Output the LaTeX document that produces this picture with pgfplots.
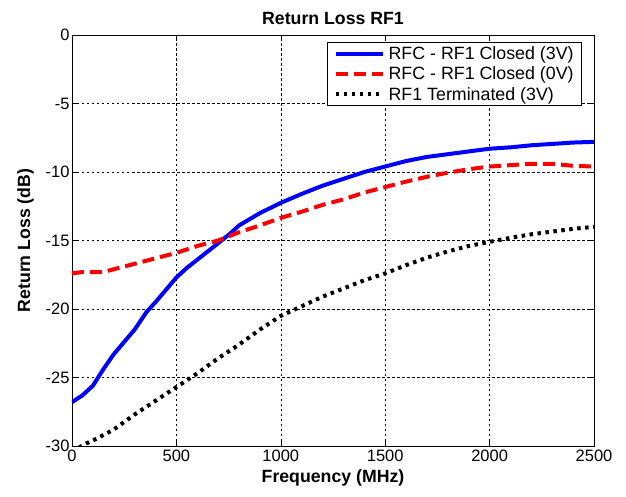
\documentclass[border=0pt]{standalone}
\usepackage{fontspec}
\setmainfont{Liberation Sans}
\usepackage{pgfplots}
\pgfplotsset{compat=1.18}

\begin{document}
\begin{tikzpicture}
\begin{axis}[
    scale only axis,
    width=522pt,
    height=411pt,
    xmin=0, xmax=2500,
    ymin=-30, ymax=0,
    xtick={0,500,...,2500},
    ytick={-30,-25,...,0},
    /pgf/number format/assume math mode=true,
    /pgf/number format/1000 sep={},
    tick align=inside,
    major tick length=5pt,
    tick style={black, line width=0.6pt},
    axis line style={black, line width=0.8pt},
    grid=major,
    major grid style={black, line width=0.6pt, dash pattern=on 2.5pt off 2.5pt},
    tick label style={font=\fontsize{16.5}{19}\selectfont},
    yticklabel style={xshift=1pt},
    xlabel={\fontsize{17.7}{21}\selectfont\bfseries Frequency (MHz)},
    ylabel={\fontsize{17.7}{21}\selectfont\bfseries Return Loss (dB)},
    title={\fontsize{17.7}{21}\selectfont\bfseries Return Loss RF1},
    title style={yshift=1pt},
    xlabel style={yshift=-2pt},
    ylabel style={yshift=5pt},
    legend style={at={(rel axis cs:0.977,0.983)}, anchor=north east,
        draw=black, line width=0.8pt, font=\fontsize{17.8}{20}\selectfont,
        row sep=2pt, inner xsep=6pt, inner ysep=2pt,
        /tikz/every odd column/.append style={column sep=2pt}},
    legend cell align=left,
    legend image code/.code={\draw[#1] (0pt,0pt) -- (47pt,0pt);},
    clip=true,
]

% RFC - RF1 Closed (3V)
\addplot[blue, line width=4pt] coordinates {
    (0,-26.8) (20,-26.6) (50,-26.3) (100,-25.6) (150,-24.4)
    (200,-23.3) (250,-22.4) (300,-21.5) (358,-20.2) (400,-19.5)
    (450,-18.6) (500,-17.7) (550,-17.0) (600,-16.4) (650,-15.8) (700,-15.2)
    (757,-14.5) (800,-13.9) (900,-13.0) (1000,-12.25) (1100,-11.6)
    (1200,-11.0) (1300,-10.5) (1400,-10.0) (1500,-9.6) (1600,-9.2)
    (1700,-8.9) (1800,-8.7) (1900,-8.5) (2000,-8.3) (2100,-8.2)
    (2200,-8.05) (2300,-7.95) (2400,-7.85) (2500,-7.8)
};
\addlegendentry{RFC - RF1 Closed (3V)}

% RFC - RF1 Closed (0V)
\addplot[red, line width=4pt, dash pattern=on 12pt off 6pt] coordinates {
    (0,-17.4) (50,-17.3) (150,-17.3) (200,-17.1) (300,-16.7) (400,-16.3)
    (500,-15.9) (600,-15.4) (700,-15.0) (800,-14.4) (900,-13.9)
    (1000,-13.35) (1100,-12.9) (1200,-12.4) (1300,-12.0) (1400,-11.5)
    (1500,-11.1) (1600,-10.7) (1700,-10.35) (1800,-10.05) (1900,-9.8)
    (2000,-9.6) (2100,-9.5) (2200,-9.4) (2300,-9.4) (2400,-9.55) (2500,-9.6)
};
\addlegendentry{RFC - RF1 Closed (0V)}

% RF1 Terminated (3V)
\addplot[black, line width=4pt, dash pattern=on 3.5pt off 4.5pt] coordinates {
    (0,-30.4) (70,-29.8) (100,-29.6) (200,-28.8) (300,-27.7) (400,-26.7)
    (500,-25.7) (600,-24.7) (700,-23.6) (800,-22.6) (900,-21.5)
    (1000,-20.5) (1100,-19.8) (1200,-19.1) (1300,-18.5) (1400,-17.9)
    (1500,-17.4) (1600,-16.8) (1700,-16.25) (1800,-15.8) (1900,-15.4)
    (2000,-15.1) (2100,-14.8) (2200,-14.55) (2300,-14.35) (2400,-14.15)
    (2500,-14.0)
};
\addlegendentry{RF1 Terminated (3V)}

\end{axis}
\pgfresetboundingbox
\path (-72pt,-50pt) rectangle (554pt,446pt);
\end{tikzpicture}
\end{document}
